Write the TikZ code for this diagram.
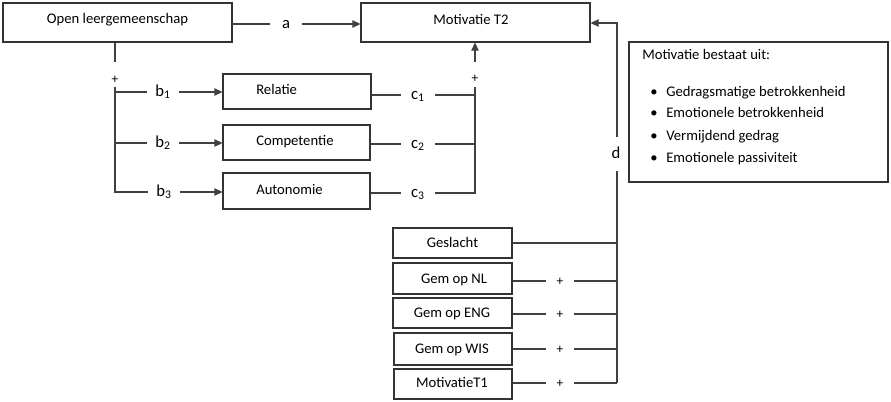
\documentclass[tikz,border=0pt]{standalone}
\usepackage{fontspec}
\setmainfont{Carlito}
\usetikzlibrary{arrows.meta,fit}
\newcommand{\fsz}{\fontsize{11pt}{13pt}\selectfont}
\newcommand{\lsz}{\fontsize{12.5pt}{14pt}\selectfont}
\begin{document}
\begin{tikzpicture}[x=0.75pt,y=-0.75pt,
  box/.style={draw=black!80, line width=0.8pt, inner sep=0pt},
  txt/.style={font=\fsz, inner sep=0pt, text height=8pt, text depth=2pt},
  lab/.style={txt, font=\lsz, minimum width=#1},
  lab/.default=23pt,
  plussign/.style={font=\fontsize{10pt}{12pt}\selectfont, inner sep=0pt},
  ln/.style={draw=black!75, line width=0.8pt},
  arr/.style={ln, -{Triangle[length=6pt,width=5.5pt]}}]
\useasboundingbox (0,0) rectangle (891,401);
% main boxes
\node[box, fit={(3,3)(232,42)}] (open) {};
\node[txt] (openT) at (117.5,19) {Open leergemeenschap};
\node[box, fit={(361,3)(590,42)}] (mot) {};
\node[txt] (motT) at (471,20) {Motivatie T2};
\node[box, fit={(223,74)(371,109)}] (rel) {};
\node[txt, anchor=west] (relT) at (256,90) {Relatie};
\node[box, fit={(223,125)(370,160)}] (com) {};
\node[txt, anchor=west] (comT) at (256,141) {Competentie};
\node[box, fit={(223,173)(370,209)}] (aut) {};
\node[txt, anchor=west] (autT) at (256,190) {Autonomie};
% info box
\node[box, fit={(629,42)(888,182)}] (info) {};
\node[txt, anchor=west] (infoT) at (642,55) {Motivatie bestaat uit:};
\node[txt, anchor=west] (m1) at (650,92) {\makebox[12pt][l]{\textbullet}Gedragsmatige betrokkenheid};
\node[txt, anchor=west] (m2) at (650,113) {\makebox[12pt][l]{\textbullet}Emotionele betrokkenheid};
\node[txt, anchor=west] (m3) at (650,136) {\makebox[12pt][l]{\textbullet}Vermijdend gedrag};
\node[txt, anchor=west] (m4) at (650,158) {\makebox[12pt][l]{\textbullet}Emotionele passiviteit};
% control boxes
\node[box, fit={(393,228)(512,258)}] (ges) {};
\node[txt] (gesT) at (452.5,243) {Geslacht};
\node[box, fit={(393,263)(512,294)}] (nl) {};
\node[txt] (nlT) at (454,279) {Gem op NL};
\node[box, fit={(393,298)(512,328)}] (eng) {};
\node[txt] (engT) at (452,313) {Gem op ENG};
\node[box, fit={(394,333)(512,365)}] (wis) {};
\node[txt] (wisT) at (452,349) {Gem op WIS};
\node[box, fit={(394,369)(512,399)}] (mt1) {};
\node[txt] (mt1T) at (452,383) {MotivatieT1};
% path a
\node[lab=24pt] (la) at (286,24) {a};
\draw[ln] (open.east |- la) -- (la.west);
\draw[arr] (la.east) -- (mot.west |- la);
% left fork
\coordinate (j1) at (115,62);
\coordinate (j2) at (115,87);
\node[plussign] (p1) at (115,80) {+};
\draw[ln] (open.south -| j1) -- (j1);
\node[lab] (lb1) at (163,92) {b\textsubscript{1}};
\node[lab] (lb2) at (163,143) {b\textsubscript{2}};
\node[lab] (lb3) at (164,192) {b\textsubscript{3}};
\draw[ln] (j2) |- (lb3.west);
\draw[ln] (lb1.west -| j2) -- (lb1.west);
\draw[ln] (lb2.west -| j2) -- (lb2.west);
\draw[arr] (lb1.east) -- (rel.west |- lb1);
\draw[arr] (lb2.east) -- (com.west |- lb2);
\draw[arr] (lb3.east) -- (aut.west |- lb3);
% right fork
\coordinate (k1) at (475,62);
\coordinate (k2) at (475,87);
\node[plussign] (p2) at (475,79) {+};
\node[lab=25.5pt] (lc1) at (418,95) {c\textsubscript{1}};
\node[lab=25.5pt] (lc2) at (418,144) {c\textsubscript{2}};
\node[lab=25.5pt] (lc3) at (418,193) {c\textsubscript{3}};
\draw[ln] (rel.east |- lc1) -- (lc1.west);
\draw[ln] (com.east |- lc2) -- (lc2.west);
\draw[ln] (aut.east |- lc3) -- (lc3.west);
\draw[ln] (lc1.east) -- (lc1.east -| k2);
\draw[ln] (lc2.east) -- (lc2.east -| k2);
\draw[ln] (lc3.east) -| (k2);
\draw[arr] (k1) -- (mot.south -| k1);
% d path
\coordinate (db) at (617,383);
\node[txt, font=\lsz, minimum height=24.75pt] (ld) at (616,154) {d};
\draw[ln] (db) -- (ld.south -| db);
\draw[arr] (ld.north -| db) |- (mot.east |- 0,23);
% controls
\draw[ln] (ges.east) -- (ges.east -| db);
\node[lab=21pt, plussign] (pnl) at (560,281) {+};
\node[lab=21pt, plussign] (peng) at (560,314) {+};
\node[lab=21pt, plussign] (pwis) at (560,349) {+};
\node[lab=21pt, plussign] (pmt1) at (560,383) {+};
\draw[ln] (nl.east |- pnl) -- (pnl.west);
\draw[ln] (pnl.east) -- (pnl.east -| db);
\draw[ln] (eng.east |- peng) -- (peng.west);
\draw[ln] (peng.east) -- (peng.east -| db);
\draw[ln] (wis.east |- pwis) -- (pwis.west);
\draw[ln] (pwis.east) -- (pwis.east -| db);
\draw[ln] (mt1.east |- pmt1) -- (pmt1.west);
\draw[ln] (pmt1.east) -- (db);
\end{tikzpicture}
\end{document}
